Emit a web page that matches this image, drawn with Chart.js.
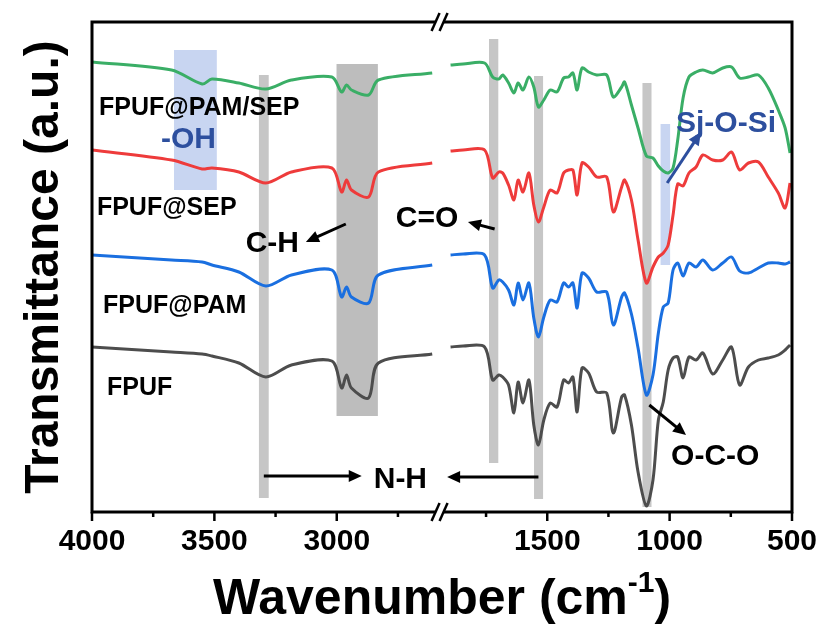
<!DOCTYPE html>
<html>
<head>
<meta charset="utf-8">
<script src="https://cdn.jsdelivr.net/npm/chart.js@4.4.0/dist/chart.umd.min.js"></script>
<style>
  html, body { margin: 0; padding: 0; background: #fff; }
</style>
</head>
<body>
<canvas id="ftir" width="825" height="630"></canvas>
<script>
// wavenumbers (cm-1) on each side of the axis break
const wnLeft = [4000, 3675, 3550, 3510, 3400, 3290, 3185, 3020, 2980, 2960, 2940, 2870, 2830, 2610];
const wnRight = [1895, 1844, 1756, 1723, 1698, 1682, 1658, 1636, 1619, 1599,
  1575, 1555, 1536, 1514, 1488, 1460, 1433, 1413, 1395, 1378,
  1358, 1331, 1298, 1257, 1230, 1196, 1184, 1156, 1129, 1095,
  1068, 1046, 1026, 1006, 986, 967, 945, 921, 892, 864,
  824, 783, 747, 714, 678, 637, 597, 556, 528, 508];

// tick marks (every 250, labelled every 500)
const ticksLeft = [4000, 3750, 3500, 3250, 3000, 2750];
const ticksRight = [1750, 1500, 1250, 1000, 750, 500];

// transmittance (a.u., curves stacked with offsets)
const pamSepLeft = [45.0, 44.2, 42.8, 43.3, 42.9, 42.3, 43.2, 43.5, 42.0, 42.7, 42.2, 41.7, 43.2, 43.9];
const sepLeft = [36.2, 35.2, 34.3, 34.4, 34.0, 32.9, 34.0, 34.4, 32.0, 33.2, 32.2, 31.5, 34.0, 34.9];
const pamLeft = [25.7, 25.2, 25.0, 24.7, 24.0, 22.6, 23.7, 24.2, 21.5, 22.5, 21.5, 20.9, 23.7, 24.7];
const fpufLeft = [16.5, 16.0, 15.8, 15.6, 14.9, 13.5, 14.7, 15.1, 12.4, 13.7, 12.4, 11.4, 14.9, 15.8];

const pamSepRight = [44.7, 44.8, 44.9, 43.5, 43.3, 43.7, 42.9, 41.9, 42.9, 42.2,
  43.5, 42.5, 40.5, 41.2, 42.2, 42.0, 43.4, 43.5, 43.9, 42.2,
  44.4, 44.0, 43.7, 43.7, 41.5, 42.5, 43.0, 40.7, 38.4, 35.6,
  35.4, 34.6, 34.1, 33.9, 34.4, 37.2, 41.4, 43.5, 44.0, 44.2,
  43.9, 44.4, 44.5, 43.4, 43.5, 43.7, 42.4, 40.2, 38.4, 35.9];
const sepRight = [36.1, 36.2, 36.2, 33.4, 34.0, 33.9, 32.7, 31.2, 33.2, 32.0,
  33.9, 30.7, 29.0, 30.5, 32.2, 31.9, 33.9, 34.2, 34.2, 31.7,
  34.9, 34.5, 33.5, 33.5, 30.0, 32.5, 33.2, 31.2, 27.2, 22.9,
  24.5, 25.5, 25.9, 26.7, 29.7, 32.8, 32.6, 33.9, 34.5, 35.7,
  35.2, 35.2, 36.0, 34.2, 34.9, 35.0, 33.5, 31.9, 30.4, 32.9];
const pamRight = [25.7, 25.8, 25.7, 22.4, 23.2, 23.0, 22.2, 20.7, 22.9, 21.2,
  22.9, 19.4, 17.5, 19.5, 21.2, 21.0, 22.9, 22.5, 22.9, 20.4,
  23.9, 23.4, 22.0, 22.0, 18.7, 21.5, 21.9, 19.8, 16.4, 11.7,
  13.7, 17.9, 20.5, 20.9, 24.2, 24.9, 23.6, 24.9, 24.5, 25.2,
  24.2, 24.9, 25.5, 24.1, 23.9, 24.4, 24.9, 24.9, 24.8, 25.0];
const fpufRight = [16.5, 16.6, 16.5, 13.2, 13.7, 13.5, 12.7, 9.9, 13.0, 10.9,
  13.2, 8.7, 6.7, 9.2, 10.9, 10.5, 13.2, 12.9, 13.5, 10.0,
  14.4, 13.9, 12.0, 11.9, 7.9, 11.5, 11.7, 8.7, 4.0, 0.6,
  3.2, 9.2, 11.0, 14.2, 15.4, 15.5, 13.4, 15.5, 15.2, 15.9,
  13.8, 15.2, 16.5, 12.7, 14.5, 15.2, 15.4, 15.7, 16.2, 16.7];

// highlighted absorption bands
const bandAxis = ['xl', 'xl', 'xl', 'xr', 'xr', 'xr', 'xr'];
const bandFrom = [3665, 3318, 3001, 1738, 1554, 1111, 1037];
const bandTo = [3490, 3278, 2832, 1700, 1517, 1074, 998];
const bandTop = [46.2, 43.7, 44.8, 47.3, 43.6, 42.9, 38.8];
const bandBottom = [32.2, 1.4, 9.6, 4.9, 1.3, 0.5, 24.7];
const bandColor = ['rgba(190,206,238,0.85)', '#c6c6c6', '#bdbdbd', '#c6c6c6', '#c6c6c6', '#c6c6c6', 'rgba(190,206,238,0.85)'];

const FONT = "'Liberation Sans', Arial, Helvetica, sans-serif";
const NAVY = '#2d4f9e';

const series = [
  { name: 'FPUF@PAM/SEP', color: '#3aae66', left: pamSepLeft, right: pamSepRight },
  { name: 'FPUF@SEP', color: '#ee3b3b', left: sepLeft, right: sepRight },
  { name: 'FPUF@PAM', color: '#1a6fe0', left: pamLeft, right: pamRight },
  { name: 'FPUF', color: '#4d4d4d', left: fpufLeft, right: fpufRight }
];

// text annotations, anchored in data units
const notes = [
  { text: 'FPUF@PAM/SEP', axis: 'xl', x: 3971, y: 39.7, size: 25, color: '#000' },
  { text: '-OH', axis: 'xl', x: 3718, y: 36.4, size: 30, color: NAVY },
  { text: 'FPUF@SEP', axis: 'xl', x: 3980, y: 29.7, size: 25, color: '#000' },
  { text: 'C-H', axis: 'xl', x: 3372, y: 26.0, size: 30, color: '#000' },
  { text: 'C=O', axis: 'xl', x: 2759, y: 28.5, size: 30, color: '#000' },
  { text: 'FPUF@PAM', axis: 'xl', x: 3955, y: 19.9, size: 25, color: '#000' },
  { text: 'FPUF', axis: 'xl', x: 3939, y: 11.7, size: 25, color: '#000' },
  { text: 'N-H', axis: 'xl', x: 2849, y: 2.4, size: 30, color: '#000' },
  { text: 'O-C-O', axis: 'xr', x: 994, y: 4.7, size: 30, color: '#000' },
  { text: 'Sj-O-Si', axis: 'xr', x: 974, y: 38.0, size: 30, color: NAVY }
];

const arrows = [
  { axis: 'xl', x1: 2963, y1: 28.8, x2: 3126, y2: 27.0, color: '#000' },
  { axis: 'xr', x1: 1715, y1: 28.3, x2: 1824, y2: 29.0, color: '#000' },
  { axis: 'xl', x1: 3298, y1: 3.6, x2: 2898, y2: 3.6, color: '#000' },
  { axis: 'xr', x1: 1536, y1: 3.5, x2: 1909, y2: 3.5, color: '#000' },
  { axis: 'xr', x1: 1083, y1: 10.7, x2: 933, y2: 7.7, color: '#000' },
  { axis: 'xr', x1: 1010, y1: 32.9, x2: 872, y2: 38.0, color: NAVY }
];

function pts(wn, vals) {
  return wn.map((w, i) => ({ x: w, y: vals[i] }));
}

const datasets = [];
series.forEach(s => {
  datasets.push({ label: s.name, data: pts(wnLeft, s.left), xAxisID: 'xl', borderColor: s.color });
  datasets.push({ label: s.name, data: pts(wnRight, s.right), xAxisID: 'xr', borderColor: s.color });
});

function drawArrow(ctx, ax, ay, bx, by, color) {
  const ang = Math.atan2(by - ay, bx - ax);
  const head = 13, half = 6;
  ctx.strokeStyle = color;
  ctx.fillStyle = color;
  ctx.lineWidth = 3;
  ctx.beginPath();
  ctx.moveTo(ax, ay);
  ctx.lineTo(bx - Math.cos(ang) * head * 0.8, by - Math.sin(ang) * head * 0.8);
  ctx.stroke();
  ctx.beginPath();
  ctx.moveTo(bx, by);
  ctx.lineTo(bx - Math.cos(ang) * head - Math.sin(ang) * half, by - Math.sin(ang) * head + Math.cos(ang) * half);
  ctx.lineTo(bx - Math.cos(ang) * head + Math.sin(ang) * half, by - Math.sin(ang) * head - Math.cos(ang) * half);
  ctx.closePath();
  ctx.fill();
}

function drawBreak(ctx, x, y) {
  ctx.fillStyle = '#fff';
  ctx.beginPath();
  ctx.moveTo(x - 8, y + 9);
  ctx.lineTo(x, y - 9);
  ctx.lineTo(x + 8, y - 9);
  ctx.lineTo(x, y + 9);
  ctx.closePath();
  ctx.fill();
  ctx.strokeStyle = '#000';
  ctx.lineWidth = 2.5;
  [-4, 4].forEach(d => {
    ctx.beginPath();
    ctx.moveTo(x + d - 4, y + 9);
    ctx.lineTo(x + d + 4, y - 9);
    ctx.stroke();
  });
}

const decor = {
  id: 'decor',
  beforeDatasetsDraw(chart) {
    const ctx = chart.ctx, ys = chart.scales.y;
    ctx.save();
    bandFrom.forEach((f, i) => {
      const xs = chart.scales[bandAxis[i]];
      const a = xs.getPixelForValue(f), b = xs.getPixelForValue(bandTo[i]);
      const t = ys.getPixelForValue(bandTop[i]), u = ys.getPixelForValue(bandBottom[i]);
      ctx.fillStyle = bandColor[i];
      ctx.fillRect(Math.min(a, b), t, Math.abs(b - a), u - t);
    });
    ctx.restore();
  },
  afterDatasetsDraw(chart) {
    const ctx = chart.ctx, ys = chart.scales.y, area = chart.chartArea;
    ctx.save();

    // labels and arrows
    ctx.textAlign = 'left';
    ctx.textBaseline = 'alphabetic';
    notes.forEach(n => {
      ctx.font = 'bold ' + n.size + 'px ' + FONT;
      ctx.fillStyle = n.color;
      ctx.fillText(n.text, chart.scales[n.axis].getPixelForValue(n.x), ys.getPixelForValue(n.y));
    });
    arrows.forEach(a => {
      const xs = chart.scales[a.axis];
      drawArrow(ctx, xs.getPixelForValue(a.x1), ys.getPixelForValue(a.y1),
        xs.getPixelForValue(a.x2), ys.getPixelForValue(a.y2), a.color);
    });

    // frame
    ctx.strokeStyle = '#000';
    ctx.lineWidth = 3;
    ctx.strokeRect(area.left, area.top, area.right - area.left, area.bottom - area.top);

    // ticks on the bottom axis
    ctx.lineWidth = 2.5;
    ['xl', 'xr'].forEach(id => {
      const s = chart.scales[id];
      s.ticks.forEach(t => {
        const len = t.value % 500 === 0 ? 9 : 5;
        const px = s.getPixelForValue(t.value);
        ctx.beginPath();
        ctx.moveTo(px, area.bottom);
        ctx.lineTo(px, area.bottom + len);
        ctx.stroke();
      });
    });

    // axis break marks
    const seam = chart.scales.xl.right;
    drawBreak(ctx, seam, area.top);
    drawBreak(ctx, seam, area.bottom);

    // axis titles
    ctx.fillStyle = '#000';
    ctx.font = 'bold 50px ' + FONT;
    const main = 'Wavenumber (cm', sup = '-1', close = ')';
    const wMain = ctx.measureText(main).width;
    ctx.font = 'bold 30px ' + FONT;
    const wSup = ctx.measureText(sup).width;
    ctx.font = 'bold 50px ' + FONT;
    const wClose = ctx.measureText(close).width;
    let tx = (area.left + area.right) / 2 - (wMain + wSup + wClose) / 2;
    const ty = 614;
    ctx.fillText(main, tx, ty);
    tx += wMain;
    ctx.font = 'bold 30px ' + FONT;
    ctx.fillText(sup, tx, ty - 22);
    tx += wSup;
    ctx.font = 'bold 50px ' + FONT;
    ctx.fillText(close, tx, ty);

    ctx.translate(45, (area.top + area.bottom) / 2);
    ctx.rotate(-Math.PI / 2);
    ctx.textAlign = 'center';
    ctx.textBaseline = 'middle';
    ctx.font = 'bold 48px ' + FONT;
    ctx.fillText('Transmittance (a.u.)', 0, 0);
    ctx.restore();
  }
};

const tickFont = { family: FONT, size: 30, weight: 'bold' };
const labelOf = v => (v % 500 === 0 ? String(v) : '');
const setTicks = list => s => { s.ticks = list.map(v => ({ value: v })); };

new Chart(document.getElementById('ftir'), {
  type: 'line',
  data: { datasets },
  plugins: [decor],
  options: {
    responsive: false,
    animation: false,
    devicePixelRatio: 1,
    layout: { padding: { top: 22, right: 33, left: 0, bottom: 0 } },
    plugins: { legend: { display: false }, tooltip: { enabled: false } },
    elements: {
      point: { radius: 0 },
      line: { borderWidth: 3, tension: 0.3, fill: false }
    },
    scales: {
      xl: {
        type: 'linear', position: 'bottom', stack: 'wn', stackWeight: 1420,
        min: 2580, max: 4000, reverse: true,
        grid: { display: false, drawTicks: true, tickLength: 9 },
        border: { display: false },
        afterBuildTicks: setTicks(ticksLeft),
        ticks: { autoSkip: false, maxRotation: 0, padding: 3, color: '#000', font: tickFont, callback: labelOf },
        afterFit: s => { s.height = 118; }
      },
      xr: {
        type: 'linear', position: 'bottom', stack: 'wn', stackWeight: 1440,
        min: 500, max: 1940, reverse: true,
        grid: { display: false, drawTicks: true, tickLength: 9 },
        border: { display: false },
        afterBuildTicks: setTicks(ticksRight),
        ticks: { autoSkip: false, maxRotation: 0, padding: 3, color: '#000', font: tickFont, callback: labelOf },
        afterFit: s => { s.height = 118; }
      },
      y: {
        min: 0, max: 49,
        ticks: { display: false },
        grid: { display: false },
        border: { display: false },
        afterFit: s => { s.width = 92; }
      }
    }
  }
});
</script>
</body>
</html>
